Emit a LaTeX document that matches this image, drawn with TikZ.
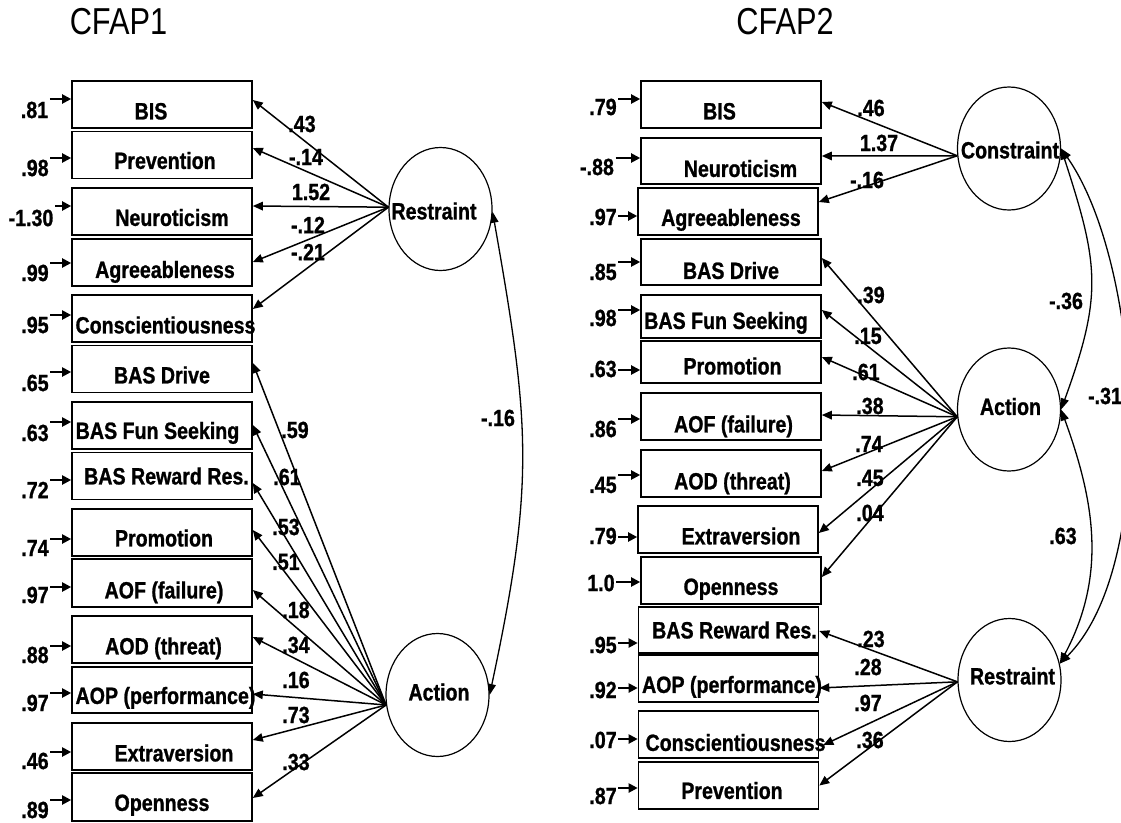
\documentclass[tikz,border=0pt]{standalone}
\usepackage{fontspec}
\setmainfont{Liberation Sans}[FakeStretch=0.835,BoldFeatures={FakeBold=1}]
\newfontfamily\ttlfont{Liberation Sans}[FakeStretch=0.82]
\usetikzlibrary{arrows.meta,shapes.geometric,calc}
\newcommand\bt[3]{\makebox[0pt]{\hspace*{#1pt}\raisebox{\dimexpr#2pt-1.1pt\relax}[0pt][0pt]{#3}}}
\newcommand\errarrow[5]{%
  \node[num] (e#1) at (#2,-#3) {#4};
  \coordinate (ea#1) at ([xshift=1.5pt,yshift=#5pt]e#1.east);
  \draw[err] (ea#1) -- (ea#1 -| #1.west);
}
\begin{document}
\begin{tikzpicture}[x=1pt,y=1pt,font=\bfseries\fontsize{23.5}{25}\selectfont,
  box/.style={draw,line width=1.6pt,minimum width=180pt,minimum height=47pt,inner sep=0pt},
  lat/.style={draw,ellipse,line width=1.2pt,minimum width=103pt,minimum height=123pt,inner sep=0pt},
  num/.style={inner sep=0pt},
  ttl/.style={inner sep=0pt,font=\ttlfont\fontsize{37.5}{40}\selectfont},
  load/.style={line width=1.5pt,-{Triangle[length=10pt,width=8.5pt]}},
  err/.style={line width=2pt,-{Triangle[length=9pt,width=9pt]}},
  cov/.style={line width=1.3pt,{Triangle[length=11pt,width=8pt]}-{Triangle[length=11pt,width=8pt]}}]
\path[use as bounding box,fill=white] (0,0) rectangle (1121,-822);

% titles
\node[ttl] (t1) at (118.5,-21.5) {CFAP1};
\node[ttl] (t2) at (785,-21.5) {CFAP2};

% ---------------- left panel ----------------
\node[box] (L1) at (162,-104.5) {\bt{-22}{-13.8}{BIS}};
\node[box] (L2) at (162,-155) {\bt{6}{-12.8}{Prevention}};
\node[box] (L3) at (162,-211.5) {\bt{20}{-13.3}{Neuroticism}};
\node[box] (L4) at (162,-262.5) {\bt{6}{-14.3}{Agreeableness}};
\node[box] (L5) at (162,-318.5) {\bt{7}{-13.8}{Conscientiousness}};
\node[box] (L6) at (162,-369) {\bt{0}{-13.3}{BAS Drive}};
\node[box] (L7) at (162,-425.5) {\bt{-9}{-12.3}{BAS Fun Seeking}};
\node[box] (L8) at (162,-476) {\bt{9}{-7.3}{BAS Reward Res.}};
\node[box] (L9) at (162,-532.5) {\bt{4}{-12.8}{Promotion}};
\node[box,minimum height=48pt] (L10) at (162,-583) {\bt{4}{-14.3}{AOF (failure)}};
\node[box] (L11) at (162,-639.5) {\bt{3}{-13.8}{AOD (threat)}};
\node[box,minimum height=46pt] (L12) at (162,-690) {\bt{7}{-12.8}{AOP (performance)}};
\node[box] (L13) at (162,-746.5) {\bt{24}{-13.8}{Extraversion}};
\node[box,minimum height=48pt] (L14) at (162,-797) {\bt{0}{-12.8}{Openness}};

\node[lat] (lRes) at (440.5,-209) {\bt{-13}{-9.3}{Restraint}};
\node[lat] (lAct) at (437.5,-695) {\bt{3}{-4.3}{Action}};

\errarrow{L1}{34.5}{110}{.81}{11}
\errarrow{L2}{35}{168}{.98}{10}
\errarrow{L3}{31}{218}{-1.30}{12}
\errarrow{L4}{35}{273}{.99}{10}
\errarrow{L5}{35}{325}{.95}{10}
\errarrow{L6}{35}{383}{.65}{11}
\errarrow{L7}{35}{433}{.63}{11}
\errarrow{L8}{35}{490}{.72}{10}
\errarrow{L9}{35}{548}{.74}{9}
\errarrow{L10}{35}{595}{.97}{8}
\errarrow{L11}{35}{655}{.88}{9}
\errarrow{L12}{35}{703}{.97}{10}
\errarrow{L13}{35}{761}{.46}{9}
\errarrow{L14}{35}{810}{.89}{10}

\draw[load] (lRes.178) -- ([yshift=4.5pt]L1.east);
\draw[load] (lRes.178) -- ([yshift=7pt]L2.east);
\draw[load] (lRes.178) -- ([yshift=5.5pt]L3.east);
\draw[load] (lRes.178) -- ([yshift=0.5pt]L4.east);
\draw[load] (lRes.178) -- ([yshift=9.5pt]L5.east);

\draw[load] (lAct.191) -- ([yshift=6pt]L6.east);
\draw[load] (lAct.191) -- ([yshift=0.5pt]L7.east);
\draw[load] (lAct.191) -- ([yshift=-7pt]L8.east);
\draw[load] (lAct.191) -- ([yshift=2.5pt]L9.east);
\draw[load] (lAct.191) -- ([yshift=-7pt]L10.east);
\draw[load] (lAct.191) -- ([yshift=2.5pt]L11.east);
\draw[load] (lAct.191) -- ([yshift=-4pt]L12.east);
\draw[load] (lAct.191) -- ([yshift=6.5pt]L13.east);
\draw[load] (lAct.191) -- ([yshift=-1pt]L14.east);

\node[num] (k1) at (302,-124) {.43};
\node[num] (k2) at (306,-157) {-.14};
\node[num] (k3) at (311,-192) {1.52};
\node[num] (k4) at (308,-225) {-.12};
\node[num] (k5) at (308,-252) {-.21};
\node[num] (k6) at (295,-430) {.59};
\node[num] (k7) at (287,-477) {.61};
\node[num] (k8) at (286,-527) {.53};
\node[num] (k9) at (286,-562) {.51};
\node[num] (k10) at (296,-610) {.18};
\node[num] (k11) at (296,-645) {.34};
\node[num] (k12) at (296,-680) {.16};
\node[num] (k13) at (296,-715) {.73};
\node[num] (k14) at (296,-762) {.33};

\draw[cov] (lRes.-3) to[out=-80,in=78,looseness=1.15] (lAct.east);
\node[num] (c1) at (498,-418) {-.16};

% ---------------- right panel ----------------
\node[box] (R1) at (731,-104.5) {\bt{-23}{-13.8}{BIS}};
\node[box,minimum height=46pt] (R2) at (731,-161) {\bt{19}{-14.8}{Neuroticism}};
\node[box] (R3) at (728,-211.5) {\bt{6}{-13.3}{Agreeableness}};
\node[box,minimum height=46pt] (R4) at (731,-262) {\bt{0}{-15.8}{BAS Drive}};
\node[box,minimum height=43pt] (R5) at (731,-316.5) {\bt{-10}{-11.3}{BAS Fun Seeking}};
\node[box,minimum height=42pt] (R6) at (731,-362) {\bt{3}{-11.3}{Promotion}};
\node[box] (R7) at (731,-416.5) {\bt{5}{-14.8}{AOF (failure)}};
\node[box] (R8) at (731,-473.5) {\bt{3}{-14.8}{AOD (threat)}};
\node[box] (R9) at (728,-529.5) {\bt{26}{-13.8}{Extraversion}};
\node[box] (R10) at (731,-580.5) {\bt{0}{-13.3}{Openness}};
\node[box,minimum height=46pt] (R11) at (728.5,-630) {\bt{12}{-7.3}{BAS Reward Res.}};
\node[box] (R12) at (728.5,-678.5) {\bt{7}{-13.3}{AOP (performance)}};
\node[box] (R13) at (728.5,-734.5) {\bt{14}{-15.3}{Conscientiousness}};
\node[box] (R14) at (728.5,-785.5) {\bt{7}{-12.3}{Prevention}};

\node[lat] (rCon) at (1009,-148.5) {\bt{2}{-8.8}{Constraint}};
\node[lat] (rAct) at (1009,-409.5) {\bt{3}{-4.3}{Action}};
\node[lat] (rRes) at (1009.5,-680) {\bt{6}{-3.3}{Restraint}};

\errarrow{R1}{603}{107}{.79}{8}
\errarrow{R2}{597}{167}{-.88}{9}
\errarrow{R3}{603}{217}{.97}{1}
\errarrow{R4}{603}{272}{.85}{10}
\errarrow{R5}{603}{318}{.98}{8}
\errarrow{R6}{603}{369}{.63}{-1}
\errarrow{R7}{603}{429}{.86}{10}
\errarrow{R8}{603}{485}{.45}{10}
\errarrow{R9}{603}{536}{.79}{-1}
\errarrow{R10}{601}{583}{1.0}{1}
\errarrow{R11}{603}{645}{.95}{2}
\errarrow{R12}{603}{690}{.92}{2}
\errarrow{R13}{603}{740}{.07}{1}
\errarrow{R14}{603}{796}{.87}{8}

\draw[load] (rCon.188) -- ([yshift=2.5pt]R1.east);
\draw[load] (rCon.188) -- ([yshift=5pt]R2.east);
\draw[load] (rCon.188) -- ([yshift=9.5pt]R3.east);

\draw[load] (rAct.188) -- ([yshift=4pt]R4.east);
\draw[load] (rAct.188) -- ([yshift=6.5pt]R5.east);
\draw[load] (rAct.188) -- ([yshift=5pt]R6.east);
\draw[load] (rAct.188) -- ([yshift=1.5pt]R7.east);
\draw[load] (rAct.188) -- ([yshift=2.5pt]R8.east);
\draw[load] (rAct.188) -- ([yshift=-3.5pt]R9.east);
\draw[load] (rAct.188) -- ([yshift=3.5pt]R10.east);

\draw[load] (rRes.182) -- ([yshift=-1pt]R11.east);
\draw[load] (rRes.182) -- ([yshift=-9.5pt]R12.east);
\draw[load] (rRes.182) -- ([xshift=4pt,yshift=-10.5pt]R13.east);
\draw[load] (rRes.182) -- (R14.east);

\node[num] (m1) at (871,-108) {.46};
\node[num] (m2) at (879,-143) {1.37};
\node[num] (m3) at (867,-180) {-.16};
\node[num] (m4) at (871,-295) {.39};
\node[num] (m5) at (868,-336) {.15};
\node[num] (m6) at (866,-372) {.61};
\node[num] (m7) at (870,-406) {.38};
\node[num] (m8) at (869,-444) {.74};
\node[num] (m9) at (870,-478) {.45};
\node[num] (m10) at (870,-513) {.04};
\node[num] (m11) at (871,-639) {.23};
\node[num] (m12) at (868,-667) {.28};
\node[num] (m13) at (868,-703) {.97};
\node[num] (m14) at (870,-740) {.36};

\draw[cov] (rCon.east) to[out=-72,in=70,looseness=1.2] (rAct.east);
\draw[cov] (rAct.east) to[out=-70,in=62,looseness=1] (rRes.18);
\draw[cov] (rCon.east) to[out=-55,in=45,looseness=0.7] (rRes.18);
\node[num] (c2) at (1066,-301) {-.36};
\node[num] (c3) at (1105,-396) {-.31};
\node[num] (c4) at (1063,-536) {.63};
\end{tikzpicture}
\end{document}
